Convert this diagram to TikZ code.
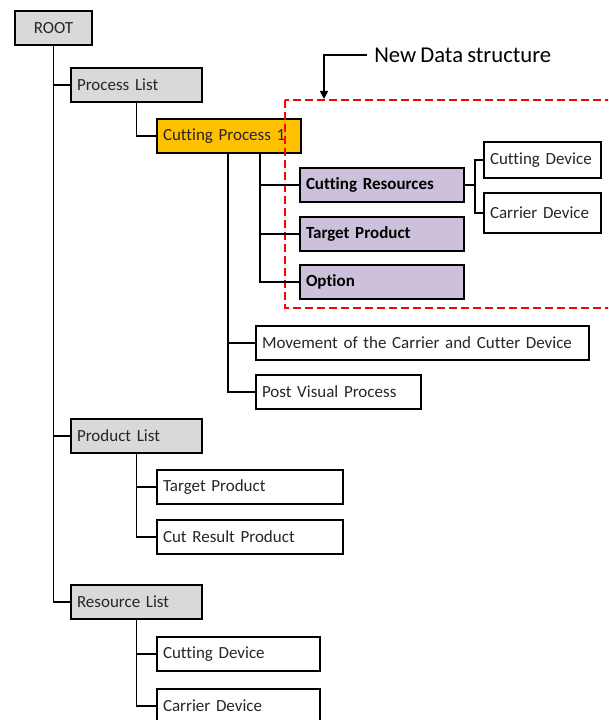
\documentclass[tikz,border=0pt]{standalone}
\usepackage{fontspec}
\setmainfont{Carlito}[Ligatures=NoCommon, WordSpace=0.8]
\usetikzlibrary{arrows.meta}
\definecolor{listgray}{HTML}{D9D9D9}
\definecolor{procorange}{HTML}{FFC000}
\definecolor{newpurple}{HTML}{CCC0DA}
\definecolor{markred}{HTML}{FF0000}

\begin{document}
\begin{tikzpicture}[x=0.75pt,y=0.75pt]
\tikzstyle{every node}+=[font=\fontsize{12.75}{15}\selectfont, text=black!85]
\tikzstyle{box}=[draw=black, line width=1.5pt, anchor=north west, inner xsep=4.5pt, inner ysep=0pt, minimum height=25.5pt, align=left]
\tikzstyle{listbox}=[box, fill=listgray]
\tikzstyle{newbox}=[box, fill=newpurple, font=\fontsize{12.75}{15}\selectfont\bfseries, text=black]
\tikzstyle{link}=[black, line width=1.1pt]
\useasboundingbox (0,0) rectangle (608,-720);
\clip (0,0) rectangle (608,-720);
% tree boxes
\node (root) [listbox, minimum width=57.75pt, align=center] at (14,-10) {ROOT};
\node (proclist) [listbox, text width=89.25pt] at (70,-67) {Process List};
\node (cutproc) [box, fill=procorange, text width=99pt] at (156,-118) {Cutting Process 1};
\node (cutres) [newbox, text width=114pt] at (299,-167) {Cutting Resources};
\node (tgtprod) [newbox, text width=114pt] at (299,-216) {Target Product};
\node (option) [newbox, text width=114pt] at (299,-264) {Option};
\node (cutdev) [box, text width=78.75pt, minimum height=27pt] at (483,-141) {Cutting Device};
\node (cardev) [box, text width=78.75pt, minimum height=30pt] at (483,-192) {Carrier Device};
\node (movement) [box, text width=240.75pt] at (255,-325) {Movement of the Carrier and Cutter Device};
\node (postvis) [box, text width=114.75pt] at (255,-374) {Post Visual Process};
\node (prodlist) [listbox, text width=89.25pt] at (70,-418) {Product List};
\node (ptgt) [box, text width=130.5pt] at (156,-469) {Target Product};
\node (cutresult) [box, text width=130.5pt] at (156,-519) {Cut Result Product};
\node (reslist) [listbox, text width=89.25pt] at (70,-584) {Resource List};
\node (rcut) [box, text width=113.25pt] at (156,-636) {Cutting Device};
\node (rcar) [box, text width=113.25pt] at (156,-688) {Carrier Device};
% new data structure marker
\draw [markred, line width=1.1pt, dash pattern=on 6pt off 3pt] (285,-100) rectangle (625,-308);
\node (newlbl) [anchor=west, inner xsep=5.25pt, inner ysep=0pt, text=black, font=\fontsize{17}{20}\selectfont] at (367,-55) {New Data structure};
\coordinate (dstop) at (324,-99);
\draw [link, -{Triangle[length=6pt,width=6pt]}] (newlbl.west) -| (dstop);
% connectors
\draw [link] (root.south) |- (proclist.west);
\draw [link] (root.south) |- (prodlist.west);
\draw [link] (root.south) |- (reslist.west);
\draw [link] (proclist.south) |- (cutproc.west);
\draw [link] ([xshift=23.25pt]cutproc.south) |- (cutres.west);
\draw [link] ([xshift=23.25pt]cutproc.south) |- (tgtprod.west);
\draw [link] ([xshift=23.25pt]cutproc.south) |- (option.west);
\draw [link] (cutres.east) -- ++(10,0) |- (cutdev.west);
\draw [link] (cutres.east) -- ++(10,0) |- (cardev.west);
\draw [link] ([xshift=-0.75pt]cutproc.south) |- (movement.west);
\draw [link] ([xshift=-0.75pt]cutproc.south) |- (postvis.west);
\draw [link] (prodlist.south) |- (ptgt.west);
\draw [link] (prodlist.south) |- (cutresult.west);
\draw [link] (reslist.south) |- (rcut.west);
\draw [link] (reslist.south) |- (rcar.west);
\end{tikzpicture}
\end{document}
